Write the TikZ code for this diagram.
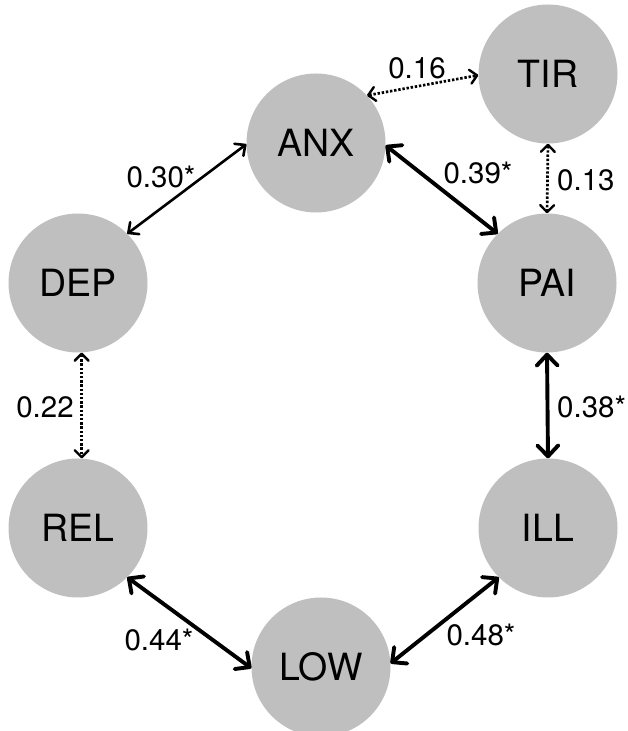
\documentclass[tikz,border=0pt]{standalone}
\usepackage{fontspec}
\setmainfont{TeX Gyre Heros}
\usetikzlibrary{arrows.meta}
\definecolor{nodegray}{RGB}{191,191,191}
\tikzset{
  x=1pt, y=1pt,
  var/.style={circle, fill=nodegray, draw=none, minimum size=139pt, inner sep=0pt,
    font=\fontsize{37.5}{37.5}\selectfont},
  coef/.style={inner sep=0pt, font=\fontsize{29.5}{29.5}\selectfont},
  strong/.style={line width=3.9pt, {Straight Barb[length=11pt,width=21pt,round]}-{Straight Barb[length=11pt,width=21pt,round]}},
  weak/.style={line width=2.6pt, {Straight Barb[length=8pt,width=15pt,round]}-{Straight Barb[length=8pt,width=15pt,round]}},
  ns/.style={line width=2.7pt, dash pattern=on 2.4pt off 1.8pt, {Straight Barb[length=7pt,width=14pt,round,line width=2.4pt]}-{Straight Barb[length=7pt,width=14pt,round,line width=2.4pt]}}
}
\begin{document}
\begin{tikzpicture}
\useasboundingbox (0,0) rectangle (627,731);
% variables
\node[var] (ANX) at (316,588) {ANX};
\node[var] (TIR) at (548,657) {TIR};
\node[var] (DEP) at (78,448) {DEP};
\node[var] (PAI) at (547,448) {PAI};
\node[var] (REL) at (78,203) {REL};
\node[var] (ILL) at (548,203) {ILL};
\node[var] (LOW) at (321,64) {LOW};
% correlations
\draw[ns] (ANX.43) -- (TIR.181);
\draw[ns] (TIR.south) -- (PAI.north);
\draw[strong] (ANX.-2) -- (PAI.135);
\draw[weak] (DEP.45) -- (ANX.181);
\draw[ns] (DEP.273) -- (REL.87);
\draw[strong] (PAI.south) -- (ILL.north);
\draw[strong] (REL.-45) -- (LOW.181);
\draw[strong] (LOW.3) -- (ILL.225);
% coefficients
\node[coef] (c1) at (417,663) {0.16};
\node[coef, anchor=west] (c2) at (557,551) {0.13};
\node[coef] (c3) at (478,558) {0.39*};
\node[coef] (c4) at (161,554) {0.30*};
\node[coef] (c5) at (45,324) {0.22};
\node[coef, anchor=west] (c6) at (557,324) {0.38*};
\node[coef] (c7) at (159,91) {0.44*};
\node[coef] (c8) at (481,96) {0.48*};
\end{tikzpicture}
\end{document}
